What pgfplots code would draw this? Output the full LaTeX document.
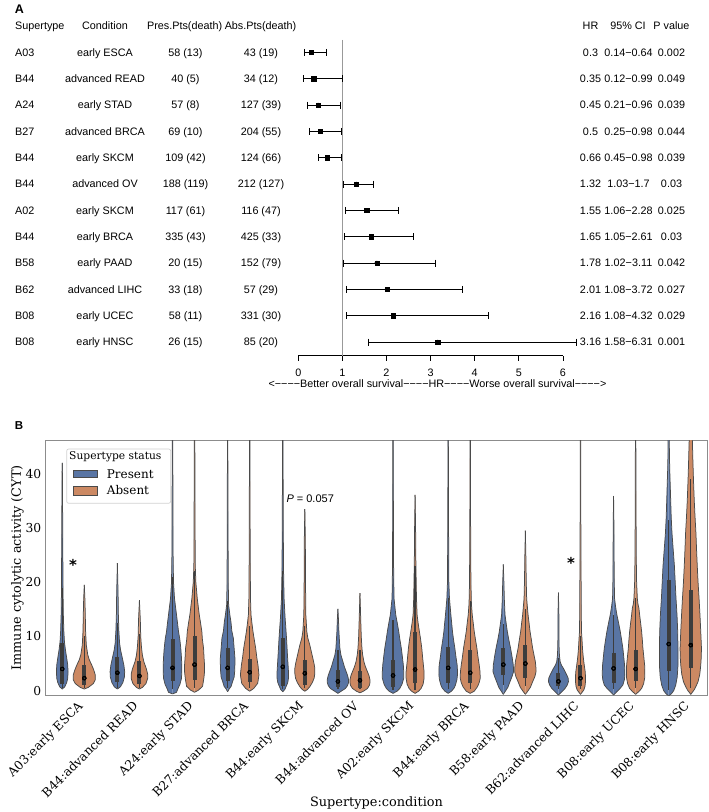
\documentclass[border=0pt]{standalone}
\usepackage{fontspec}
\setmainfont{Liberation Sans}
\newfontfamily\dvserif{DejaVu Serif}
\newfontfamily\dvsans{DejaVu Sans}
\usepackage{pgfplots}
\usepackage{pgfplotstable}
\pgfplotsset{compat=1.18}
\definecolor{pblue}{HTML}{5975A4}
\definecolor{porange}{HTML}{CC8963}
\definecolor{vgray}{HTML}{4A4A4A}
\definecolor{boxc}{HTML}{3D3D3D}
\definecolor{framec}{HTML}{8C8C8C}

\newcommand{\violin}[3]{%
\addplot[fill=#3, draw=none, forget plot] table[x expr=#1+\thisrow{w}/55.13, y=y] {#2};
\addplot[fill=#3, draw=none, forget plot] table[x expr=#1-\thisrow{w}/55.13, y=y] {#2};
\addplot[draw=vgray, line width=0.75pt, forget plot] table[x expr=#1+\thisrow{w}/55.13, y=y] {#2};
\addplot[draw=vgray, line width=0.75pt, forget plot] table[x expr=#1-\thisrow{w}/55.13, y=y] {#2};
}

% ---------- Panel A data ----------
\pgfplotstableread{
row hr lo hi
1 0.30 0.14 0.64
2 0.35 0.12 0.99
3 0.45 0.21 0.96
4 0.50 0.25 0.98
5 0.66 0.45 0.98
6 1.32 1.03 1.70
7 1.55 1.06 2.28
8 1.65 1.05 2.61
9 1.78 1.02 3.11
10 2.01 1.08 3.72
11 2.16 1.08 4.32
12 3.16 1.58 6.31
}\foresttab

% ---------- Panel B data: violin half-width profiles (y, half-width in px) ----------
\pgfplotstableread{
y w
0.3 0
0.7 2.5
1.5 4.5
2.3 5.5
3.5 5.8
4.7 5.5
6.0 4.5
7.5 3.2
9.0 2.2
11 1.6
14 1.1
18 0.8
25 0.6
32 0.4
38 0.3
42 0
}\vtA
\pgfplotstableread{
y w
0.3 0
0.6 4
1.3 9
2.0 11
2.9 11
3.8 9.5
4.7 7.5
5.7 5
6.6 3.5
8.4 2
11 1.3
14 1
17 0.6
19.5 0
}\vtB
\pgfplotstableread{
y w
0.3 0
0.7 3
1.5 5.5
2.5 7
3.5 7.3
4.7 6.5
6 5
7.5 3.2
8.8 2.2
11 1.5
14 1
18 0.7
23.5 0
}\vtC
\pgfplotstableread{
y w
0.3 0
0.6 3
1.3 6.5
2.3 8.3
3.0 8.3
4.0 7
5.3 4.5
6.5 3
8.1 2
10 1.3
13 0.9
16.7 0
}\vtD
\pgfplotstableread{
y w
-0.6 0
-0.3 4
0.4 5.5
1.2 7.5
2.3 9
3.5 9.3
4.7 9.3
6 9
7.8 8.3
9.5 7.3
10.9 6
12.5 5
14 4
17 2
20 1
25 0.6
35 0.4
50 0.3
60 0
}\vtE
\pgfplotstableread{
y w
-0.3 0
0.1 4
0.8 8
2.3 9.3
3.5 10
4.7 10
6 9.5
7.8 9
9.5 7.8
10.9 7.3
12.5 6
14 4.7
17 2.7
20 1.3
23 0.7
30 0.5
45 0.3
60 0
}\vtF
\pgfplotstableread{
y w
-0.2 0
0.3 1.5
0.8 3.5
1.7 5
2.5 6.5
3.5 7
5 7.3
6 7.3
7.8 6.5
9.7 5.7
11 4.2
12.7 3.3
14 2.2
15.8 1
20 0.6
30 0.4
60 0
}\vtG
\pgfplotstableread{
y w
-0.1 0
0.4 4
1.35 8
2.9 9.3
4.7 8.3
6.0 7.2
7.8 6
9.5 4.5
10.9 3.3
12.5 2.2
14 1.3
17 0.8
25 0.5
60 0
}\vtH
\pgfplotstableread{
y w
-0.2 0
0.2 2
0.74 3.3
1.5 5
2.3 5.7
3.5 5.7
4.7 5.3
6.2 4.8
7.8 4.3
9.5 3.8
10.9 3.3
13.5 2.3
17 1.3
22 0.8
30 0.5
60 0
}\vtI
\pgfplotstableread{
y w
-0.1 0
0.2 2.5
0.74 5
1.5 7.5
2.3 9.3
3.2 10
4.1 10
5 9.2
6 8
7.2 6.5
8.4 5
9.7 3
10.9 2
14 1
20 0.7
28 0.5
33.5 0
}\vtJ
\pgfplotstableread{
y w
-0.5 0
-0.1 3.3
0.4 7.5
0.9 9.5
1.4 10.5
2.0 10.7
2.8 9.7
3.5 8.3
4.4 6.5
5.35 5
6.6 3
7.8 2
10.9 1
13 0.6
15.1 0
}\vtK
\pgfplotstableread{
y w
-0.4 0
-0.1 3.5
0.4 7.5
1.0 9.5
1.5 10
2.0 10
2.8 9
3.5 7.5
4.4 5.5
5.3 4
6.6 2.7
7.8 2
10 1.3
13 0.8
18 0
}\vtL
\pgfplotstableread{
y w
-0.5 0
-0.1 4
0.4 6.7
1.2 9
2.3 10.7
3.5 10.7
4.7 10.3
6 9.5
7.8 8.3
9.5 6.8
10.9 5.7
12.5 4.2
14 2.7
17 1
22 0.6
30 0.4
60 0
}\vtM
\pgfplotstableread{
y w
-0.5 0
-0.1 3.5
0.4 6
1.2 8
2.3 9
3.5 9
4.7 8.3
6.2 7.5
7.8 6.7
9.5 5.5
10.9 4.3
12.5 3
14 2
17 1.4
20 1.1
25 0.7
30 0.5
36.1 0
}\vtN
\pgfplotstableread{
y w
-0.5 0
-0.1 3.3
0.5 6
1.05 7.3
2.0 8.7
2.9 9.3
4.0 9.2
4.7 9
6.2 7.8
7.8 6.7
9.5 5.3
10.9 4.3
12.5 3.5
14 2.7
17 1.3
20 0.7
30 0.4
60 0
}\vtO
\pgfplotstableread{
y w
-0.5 0
-0.1 4
0.74 7.3
1.5 9
2.3 10
3.5 9.8
4.7 9
6.2 7.8
7.8 6.7
9.5 5.2
10.9 4
12.5 3
14 2
16 1.2
20 0.7
30 0.4
60 0
}\vtP
\pgfplotstableread{
y w
-0.68 0
-0.2 1.7
0.6 4.5
1.66 6.7
2.6 8.7
3.5 10.3
4.7 10
6.2 8.8
7.8 7.3
9.4 5.5
10.9 4
12.5 2.8
14 1.7
17 1
20 0.6
23.3 0
}\vtQ
\pgfplotstableread{
y w
-0.68 0
-0.2 2
0.6 5
1.66 7.3
2.6 9.5
3.5 10.7
4.4 10.5
5.35 10
6.5 8.7
7.8 7.3
9.4 6
10.9 4.7
12.5 3.7
14 2.7
17 1.3
20 0.9
25 0.5
29.5 0
}\vtR
\pgfplotstableread{
y w
-0.8 0
-0.5 1.7
0 4.5
0.43 6.7
1.0 8.7
1.66 10
2.3 9.7
2.9 8.3
3.5 6.7
4.1 5
4.7 3
5.35 1.7
6.5 1
7.8 0.7
10 0.5
14 0.45
18.1 0
}\vtS
\pgfplotstableread{
y w
-0.68 0
-0.2 2
0.12 3.3
0.8 4.5
1.66 5
2.6 5
3.5 4.7
4.4 4
5.35 3.3
6.5 2.6
7.8 2
9.5 1.5
10.9 1
14 0.8
18 0.7
24 0.5
35 0.3
60 0
}\vtT
\pgfplotstableread{
y w
-0.8 0
-0.18 3.3
0.4 6.5
1.05 9.3
2 10.8
2.9 11.3
3.8 11.2
4.7 11
6.2 10.2
7.8 9.3
9.4 8
10.9 6.7
12.5 5
14 3.3
15.5 2
17 1
20 0.7
25 0.5
30 0.4
35.9 0
}\vtU
\pgfplotstableread{
y w
-0.68 0
-0.2 3
0.4 6
1.3 8
2.3 9
3.5 9.2
4.7 9
6.2 8.2
7.8 7.3
9.4 6.7
10.9 6
12.5 5
14 4
15.2 3.3
16 2.3
17 1.7
20 1
25 0.6
35 0.4
60 0
}\vtV
\pgfplotstableread{
y w
-1 0
-0.5 3
0 5
1 7
2.5 8.5
4.7 9.3
7.8 9.3
10.9 9
14 8.3
17 7.3
20 6.5
23 5.7
26 4.5
29 3.3
32 2.5
35 2
38 1.5
41 1
44 0.7
50 0.4
60 0
}\vtW
\pgfplotstableread{
y w
-0.68 0
0.12 3.3
0.9 5.5
1.66 7.3
3 9
4.7 10
6.2 10.5
7.8 10.7
10.9 10
14 9.2
17 8.3
20 7.3
23 6.5
26 5.8
29 5.2
32 4.3
35 3.5
39 2.7
42 2.2
45.5 1.7
50 1
60 0
}\vtX

\pgfplotstableread{
x lo q1 med q3 hi
-0.2 0.4 1.3 4.0 8.8 19
0.2 0.5 1.0 2.3 4.8 10
0.8 0.5 1.6 3.3 6.2 12.5
1.2 0.5 1.2 2.7 5.4 10.5
1.8 0.3 1.7 4.2 9.5 21
2.2 0.5 2.0 4.8 10.0 22
2.8 0.5 1.7 4.2 7.8 16.5
3.2 0.5 1.6 3.4 5.8 12
3.8 0.3 0.9 4.4 9.7 22
4.2 0.4 1.0 3.2 5.6 12
4.8 0.3 0.6 1.7 3.9 7.5
5.2 0.3 0.5 1.9 3.6 7.5
5.8 0.2 0.6 2.8 5.6 13
6.2 0.2 1.4 3.9 10.9 23
6.8 0.3 1.4 4.2 8.1 17
7.2 0.3 1.4 3.3 7.5 16.5
7.8 1.0 2.9 4.8 7.8 12.3
8.2 0.8 2.4 5.0 8.5 15
8.8 0.3 0.8 1.7 3.2 6
9.2 0.3 0.8 2.3 4.7 10
9.8 0.3 1.4 4.1 7.0 14
10.2 0.5 1.7 4.0 7.5 17
10.8 0.2 3.7 8.6 20.4 31.5
11.2 0.5 4.1 8.4 18.6 39
}\boxstats

\begin{document}
\begin{tikzpicture}[rowtext/.style={anchor=base, inner sep=0pt, font=\fontsize{10.8}{13}\selectfont}]
\path[use as bounding box] (0pt,0pt) rectangle (709pt,812pt);

% ================= Panel A =================
\node[font=\bfseries\fontsize{12.5}{14}\selectfont, inner sep=0pt] at (19.5pt,803pt) {A};

\begin{axis}[
  at={(298.3pt,456.3pt)}, anchor=south west,
  width=264.6pt, height=315.7pt, scale only axis,
  xmin=0, xmax=6, ymin=-12.52, ymax=-0.53,
  axis y line=none, axis x line*=bottom,
  x axis line style={black, line width=0.7pt},
  xtick={0,1,2,3,4,5,6},
  tick align=outside, major tick length=5pt,
  xtick style={black, line width=0.7pt},
  /pgf/number format/assume math mode=true,
  xticklabel style={font=\fontsize{10.8}{13}\selectfont, anchor=base, yshift=-15.5pt},
  clip=false,
]
\addplot[draw=black!40, line width=0.9pt] coordinates {(1,-0.53) (1,-12.52)};
% confidence intervals
\addplot[only marks, mark=none,
  error bars/.cd, x dir=both, x explicit, error mark=none,
  error bar style={line width=0.8pt, black}]
  table[x=hr, y expr=-\thisrow{row}, x error plus expr=\thisrow{hi}-\thisrow{hr}, x error minus expr=\thisrow{hr}-\thisrow{lo}] {\foresttab};
% caps
\addplot[only marks, mark=|, mark size=3.5pt, mark options={line width=0.8pt, black}]
  table[x=lo, y expr=-\thisrow{row}] {\foresttab};
\addplot[only marks, mark=|, mark size=3.5pt, mark options={line width=0.8pt, black}]
  table[x=hi, y expr=-\thisrow{row}] {\foresttab};
% hazard ratio
\addplot[only marks, mark=square*, mark size=2.1pt, black]
  table[x=hr, y expr=-\thisrow{row}] {\foresttab};
\end{axis}

% header
\node[rowtext, anchor=base west] at (15pt,782.4pt) {Supertype};
\node[rowtext] at (105pt,782.4pt) {Condition};
\node[rowtext] at (184.7pt,782.4pt) {Pres.Pts(death)};
\node[rowtext] at (260.5pt,782.4pt) {Abs.Pts(death)};
\node[rowtext] at (590.5pt,782.4pt) {HR};
\node[rowtext] at (628pt,782.4pt) {95\% CI};
\node[rowtext] at (671.5pt,782.4pt) {P value};

\foreach \i/\ca/\cb/\cc/\cd/\ce/\cf/\cg in {
 1/A03/early ESCA/58 (13)/43 (19)/0.3/0.14−0.64/0.002,
 2/B44/advanced READ/40 (5)/34 (12)/0.35/0.12−0.99/0.049,
 3/A24/early STAD/57 (8)/127 (39)/0.45/0.21−0.96/0.039,
 4/B27/advanced BRCA/69 (10)/204 (55)/0.5/0.25−0.98/0.044,
 5/B44/early SKCM/109 (42)/124 (66)/0.66/0.45−0.98/0.039,
 6/B44/advanced OV/188 (119)/212 (127)/1.32/1.03−1.7/0.03,
 7/A02/early SKCM/117 (61)/116 (47)/1.55/1.06−2.28/0.025,
 8/B44/early BRCA/335 (43)/425 (33)/1.65/1.05−2.61/0.03,
 9/B58/early PAAD/20 (15)/152 (79)/1.78/1.02−3.11/0.042,
 10/B62/advanced LIHC/33 (18)/57 (29)/2.01/1.08−3.72/0.027,
 11/B08/early UCEC/58 (11)/331 (30)/2.16/1.08−4.32/0.029,
 12/B08/early HNSC/26 (15)/85 (20)/3.16/1.58−6.31/0.001}{
 \pgfmathsetmacro\yy{759.7-26.34*(\i-1)-3.9}
 \node[rowtext, anchor=base west] at (15pt,\yy pt) {\ca};
 \node[rowtext] at (105pt,\yy pt) {\cb};
 \node[rowtext] at (185.5pt,\yy pt) {\cc};
 \node[rowtext] at (261pt,\yy pt) {\cd};
 \node[rowtext] at (590.5pt,\yy pt) {\ce};
 \node[rowtext] at (628.5pt,\yy pt) {\cf};
 \node[rowtext] at (671.5pt,\yy pt) {\cg};
}
\node[rowtext, anchor=center] at (437.5pt,428.7pt) {<−−−−Better overall survival−−−−HR−−−−Worse overall survival−−−−>};

% ================= Panel B =================
\node[font=\bfseries\fontsize{11.5}{13}\selectfont, inner sep=0pt] at (19pt,386pt) {B};

\begin{axis}[
  at={(45.7pt,117pt)}, anchor=south west,
  width=661.6pt, height=254.3pt, scale only axis,
  xmin=-0.5, xmax=11.5, ymin=-0.8, ymax=46.1,
  xtick={0,1,2,3,4,5,6,7,8,9,10,11},
  xticklabels={A03:early ESCA, B44:advanced READ, A24:early STAD, B27:advanced BRCA, B44:early SKCM, B44:advanced OV, A02:early SKCM, B44:early BRCA, B58:early PAAD, B62:advanced LIHC, B08:early UCEC, B08:early HNSC},
  ytick={0,10,20,30,40},
  major tick length=0pt,
  axis line style={draw=framec, line width=1pt},
  /pgf/number format/assume math mode=true,
  yticklabel style={font=\dvserif\fontsize{12.3}{14}\selectfont, xshift=-1pt},
  xticklabel style={font=\dvserif\fontsize{12.3}{14}\selectfont, rotate=45, anchor=north east, inner sep=0pt, yshift=-6pt, xshift=-1pt},
  xlabel={Supertype:condition},
  ylabel={Immune cytolytic activity (CYT)},
  xlabel style={font=\dvserif\fontsize{12.9}{15}\selectfont, at={(axis description cs:0.5,-0.4247)}, anchor=center},
  ylabel style={font=\dvserif\fontsize{12.8}{15}\selectfont, at={(axis description cs:-0.0426,0.5)}, anchor=center},
]
\violin{-0.2}{\vtA}{pblue}
\violin{0.2}{\vtB}{porange}
\violin{0.8}{\vtC}{pblue}
\violin{1.2}{\vtD}{porange}
\violin{1.8}{\vtE}{pblue}
\violin{2.2}{\vtF}{porange}
\violin{2.8}{\vtG}{pblue}
\violin{3.2}{\vtH}{porange}
\violin{3.8}{\vtI}{pblue}
\violin{4.2}{\vtJ}{porange}
\violin{4.8}{\vtK}{pblue}
\violin{5.2}{\vtL}{porange}
\violin{5.8}{\vtM}{pblue}
\violin{6.2}{\vtN}{porange}
\violin{6.8}{\vtO}{pblue}
\violin{7.2}{\vtP}{porange}
\violin{7.8}{\vtQ}{pblue}
\violin{8.2}{\vtR}{porange}
\violin{8.8}{\vtS}{pblue}
\violin{9.2}{\vtT}{porange}
\violin{9.8}{\vtU}{pblue}
\violin{10.2}{\vtV}{porange}
\violin{10.8}{\vtW}{pblue}
\violin{11.2}{\vtX}{porange}
% whiskers
\addplot[only marks, mark=none, forget plot,
  error bars/.cd, y dir=both, y explicit, error mark=none,
  error bar style={line width=1.3pt, draw=boxc}]
  table[x=x, y=med, y error plus expr=\thisrow{hi}-\thisrow{med}, y error minus expr=\thisrow{med}-\thisrow{lo}] {\boxstats};
% IQR boxes
\addplot[only marks, mark=none, forget plot,
  error bars/.cd, y dir=both, y explicit, error mark=none,
  error bar style={line width=4pt, draw=boxc}]
  table[x=x, y=med, y error plus expr=\thisrow{q3}-\thisrow{med}, y error minus expr=\thisrow{med}-\thisrow{q1}] {\boxstats};
% medians
\addplot[only marks, mark=*, mark size=0.85pt, mark options={fill=white, draw=none}, forget plot]
  table[x=x, y=med] {\boxstats};
\end{axis}

% legend
\draw[black!18, fill=white, rounded corners=2pt, line width=0.7pt] (66.7pt,308.7pt) rectangle (170.7pt,363pt);
\node[font=\dvserif\fontsize{10.7}{12}\selectfont, anchor=base west, inner sep=0pt] at (69pt,352.2pt) {Supertype status};
\draw[fill=pblue, draw=vgray, line width=0.5pt] (73.3pt,334.3pt) rectangle (97.3pt,342pt);
\draw[fill=porange, draw=vgray, line width=0.5pt] (73.3pt,317pt) rectangle (97.3pt,325.3pt);
\node[font=\dvserif\fontsize{12}{14}\selectfont, anchor=base west, inner sep=0pt] at (106.7pt,333.9pt) {Present};
\node[font=\dvserif\fontsize{12}{14}\selectfont, anchor=base west, inner sep=0pt] at (106.7pt,317.1pt) {Absent};

% annotations
\node[font=\fontsize{11}{13}\selectfont, anchor=west, inner sep=0pt] at (286.3pt,313.7pt) {{\itshape P} = 0.057};
\node[font=\dvsans\bfseries\fontsize{15}{15}\selectfont, inner sep=0pt] at (73pt,247.5pt) {*};
\node[font=\dvsans\bfseries\fontsize{15}{15}\selectfont, inner sep=0pt] at (571pt,249pt) {*};
\end{tikzpicture}
\end{document}
